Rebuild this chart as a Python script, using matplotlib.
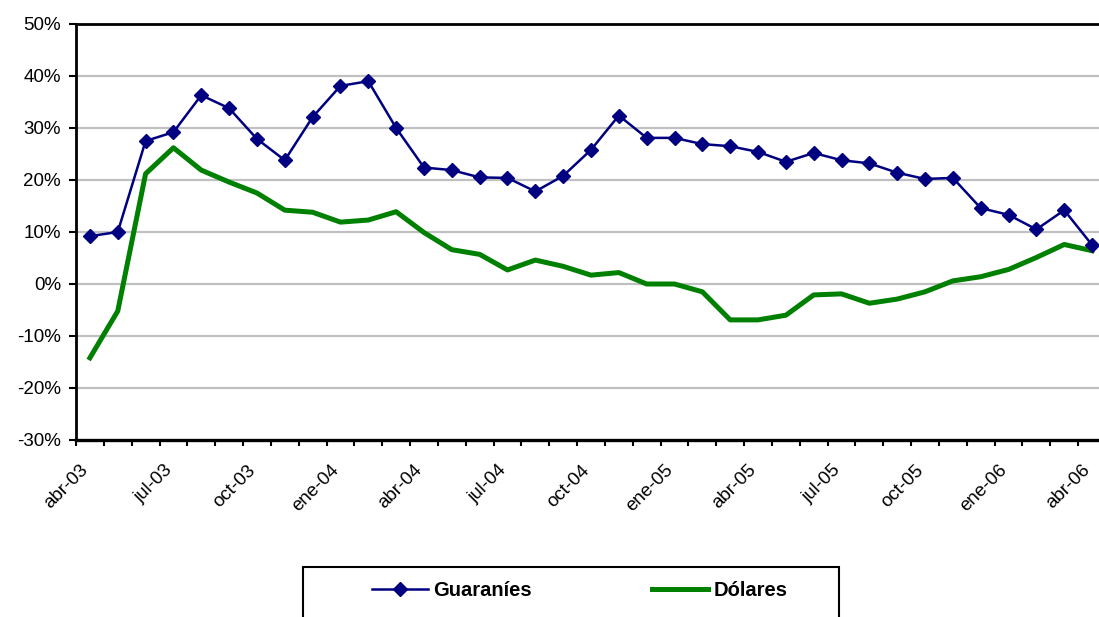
import matplotlib
matplotlib.use('Agg')
import matplotlib.pyplot as plt
from matplotlib.lines import Line2D
from matplotlib.patches import Rectangle
from matplotlib.ticker import FuncFormatter, FixedLocator
from matplotlib.transforms import ScaledTranslation

plt.rcParams['font.family'] = ['Liberation Sans', 'DejaVu Sans']

months = ['abr-03', 'may-03', 'jun-03', 'jul-03', 'ago-03', 'sep-03', 'oct-03', 'nov-03', 'dic-03',
          'ene-04', 'feb-04', 'mar-04', 'abr-04', 'may-04', 'jun-04', 'jul-04', 'ago-04', 'sep-04',
          'oct-04', 'nov-04', 'dic-04', 'ene-05', 'feb-05', 'mar-05', 'abr-05', 'may-05', 'jun-05',
          'jul-05', 'ago-05', 'sep-05', 'oct-05', 'nov-05', 'dic-05', 'ene-06', 'feb-06', 'mar-06',
          'abr-06']

guaranies = [9.2, 10.0, 27.5, 29.2, 36.3, 33.8, 27.9, 23.8, 32.1, 38.1, 39.0, 30.0, 22.4, 21.9,
             20.5, 20.4, 17.8, 20.8, 25.8, 32.4, 28.1, 28.1, 26.9, 26.5, 25.4, 23.5, 25.2, 23.8,
             23.2, 21.4, 20.2, 20.4, 14.6, 13.3, 10.5, 14.2, 7.5]

dolares = [-14.2, -5.2, 21.2, 26.2, 21.9, 19.6, 17.5, 14.2, 13.8, 11.9, 12.3, 13.9, 9.9, 6.6,
           5.7, 2.7, 4.6, 3.4, 1.7, 2.2, 0.0, 0.0, -1.5, -6.9, -6.9, -6.0, -2.1, -1.9, -3.7,
           -2.9, -1.5, 0.6, 1.4, 2.8, 5.1, 7.6, 6.4]

series_names = ['Guaraníes', 'Dólares']
y_ticks = [-30, -20, -10, 0, 10, 20, 30, 40, 50]
label_step = 3

BLUE = '#000080'
GREEN = '#008000'

W, H = 1099, 617
fig = plt.figure(figsize=(W / 100, H / 100), dpi=100)
ax = fig.add_axes([76 / W, 177 / H, 1030 / W, 416 / H])

x = list(range(len(months)))
ax.plot(x, dolares, color=GREEN, lw=3.6, zorder=3)
ax.plot(x, guaranies, color=BLUE, lw=1.8, marker='D', ms=7.5, zorder=4)

ax.set_xlim(-0.5, len(months) - 0.5)
ax.set_ylim(y_ticks[0], y_ticks[-1])

for v in y_ticks[1:-1]:
    ax.axhline(v, color='#c0c0c0', lw=1.6, zorder=1)

ax.set_yticks(y_ticks)
ax.yaxis.set_major_formatter(FuncFormatter(lambda v, p: f'{int(v)}%'))
ax.tick_params(axis='y', length=4.8, width=1.5, labelsize=13.5, pad=6, direction='out')

label_pos = x[::label_step]
ax.set_xticks(label_pos)
ax.set_xticklabels([months[i] for i in label_pos], rotation=45, ha='right', va='center',
                   rotation_mode='anchor', fontsize=13.5)
ax.tick_params(axis='x', which='major', length=0, pad=20)
shift = ScaledTranslation(-4 / 100, 0, fig.dpi_scale_trans)
for lab in ax.get_xticklabels():
    lab.set_transform(lab.get_transform() + shift)
ax.xaxis.set_minor_locator(FixedLocator([i - 0.5 for i in range(len(months) + 1)]))
ax.tick_params(axis='x', which='minor', length=4.6, width=1.5, direction='out')

ax.spines['right'].set_visible(False)
ax.spines['top'].set_linewidth(2)
ax.spines['left'].set_linewidth(2)
ax.spines['bottom'].set_linewidth(2.4)

# legend box
rect = Rectangle((303 / W, (H - 635) / H), 536 / W, 68 / H, transform=fig.transFigure,
                 fill=False, edgecolor='black', lw=1.5, clip_on=False)
fig.patches.append(rect)

handles = [Line2D([], [], color=BLUE, lw=1.8, marker='D', ms=7.5),
           Line2D([], [], color=GREEN, lw=3.6)]
starts = [362, 642]
for h, name, sx in zip(handles, series_names, starts):
    fig.legend([h], [name], loc='center left', bbox_to_anchor=(sx / W, 1 - 591 / H),
               frameon=False, borderpad=0, handlelength=2.8, handletextpad=0.25,
               prop={'weight': 'bold', 'size': 14.5})

fig.savefig('out.png', dpi=100)
